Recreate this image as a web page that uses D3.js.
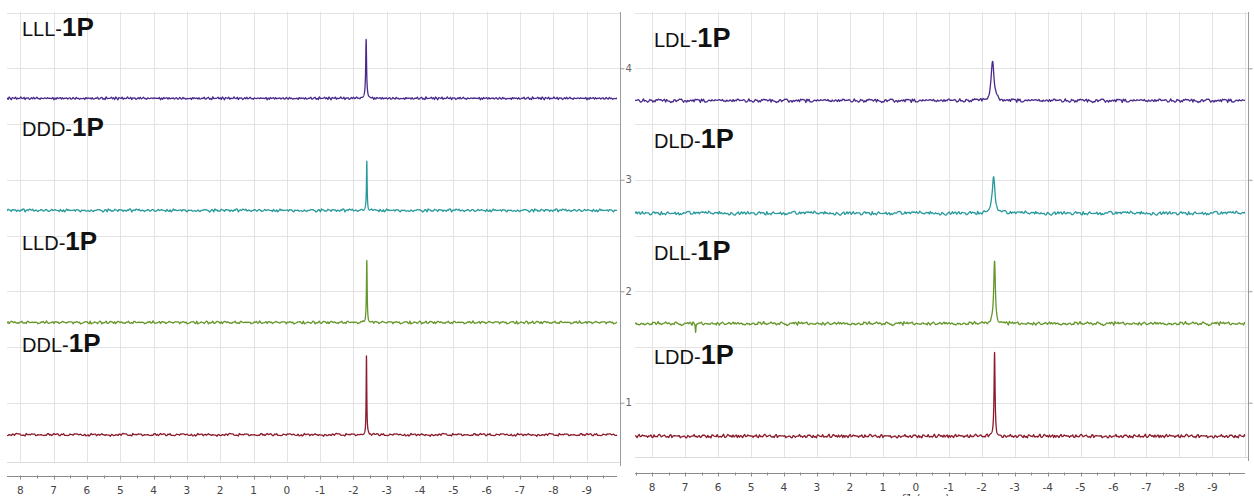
<!DOCTYPE html>
<html>
<head>
<meta charset="utf-8">
<script src="https://cdn.jsdelivr.net/npm/d3@7"></script>
<style>
  body { margin: 0; background: #fff; }
  svg { display: block; }
</style>
</head>
<body>
<svg id="chart" width="1254" height="496"></svg>
<script>
// ---- data -----------------------------------------------------------
const ppmTicks = [8, 7, 6, 5, 4, 3, 2, 1, 0, -1, -2, -3, -4, -5, -6, -7, -8, -9];
const intensityTicks = [1, 2, 3, 4];

const leftNames = ["LLL", "DDD", "LLD", "DDL"];
const rightNames = ["LDL", "DLD", "DLL", "LDD"];
const nameSuffix = "1P";

// stacked baseline offsets (intensity units)
const leftOffsets = [3.73, 2.725, 1.72, 0.713];
const rightOffsets = [3.71, 2.70, 1.71, 0.70];

// 31P signal: chemical shift (ppm), height above baseline, half-width (ppm)
const leftPeakShift = [-2.38, -2.40, -2.40, -2.39];
const leftPeakHeight = [0.53, 0.44, 0.55, 0.71];
const leftPeakWidth = [0.016, 0.012, 0.013, 0.011];

const rightPeakShift = [-2.33, -2.36, -2.39, -2.39];
const rightPeakHeight = [0.36, 0.33, 0.56, 0.75];
const rightPeakWidth = [0.05, 0.05, 0.03, 0.018];

// small negative artefact in the DLL trace
const rightSpikeShift = [null, null, 6.68, null];
const rightSpikeHeight = [0, 0, -0.085, 0];

const seriesColors = ["#48298c", "#27999c", "#64962a", "#8a1a2c"];

// baseline noise pattern (relative units)
const baselineNoise = [
  0.3, -0.5, 0.8, -0.2, -0.9, 0.4, 0.1, -0.6, 0.7, -0.3,
  0.5, -0.8, 0.2, 0.9, -0.4, -0.1, 0.6, -0.7, 0.3, -0.2,
  0.8, -0.5, 0.0, 0.4, -0.9, 0.6, -0.3, 0.1, 0.7, -0.6,
  0.2, -0.4, 0.9, -0.1, -0.7, 0.5, 0.3, -0.8, 0.6, -0.2,
  0.1, 0.4, -0.5, 0.8, -0.9, 0.2, -0.3, 0.7, -0.6, 0.0,
  0.5, -0.4, 0.9, -0.7, 0.3, -0.1, 0.6, -0.8, 0.2, 0.4,
  -0.5, 0.1, 0.8, -0.3, -0.6, 0.7, -0.2, 0.5, -0.9, 0.3,
  0.0, -0.4, 0.6, -0.7, 0.9, -0.1, 0.2, -0.5, 0.4, -0.8,
  0.7, -0.3, 0.1, 0.5, -0.6, 0.8, -0.2, -0.9, 0.3, 0.6,
  -0.4, 0.2, -0.7, 0.9, -0.5, 0.1, 0.4, -0.3, 0.7, -0.8
];

// ---- layout ---------------------------------------------------------
const svg = d3.select("#chart");
const FONT = "'Liberation Sans', Arial, sans-serif";
const AXIS_FONT = "'DejaVu Sans', Verdana, sans-serif";

const panels = [
  {
    names: leftNames, offsets: leftOffsets,
    shift: leftPeakShift, height: leftPeakHeight, width: leftPeakWidth,
    spikeShift: [null, null, null, null], spikeHeight: [0, 0, 0, 0],
    x0: 7, x1: 620, top: 12, bottom: 462, axisY: 476,
    ppmDomain: [8.4, -10], noiseAmp: 0.013,
    labelX: 22, labelY: [36, 136, 250, 352], nameSize: 20, suffixSize: 26,
    yAxisX: 620, yAxisLabels: true, strides: [1, 3, 7, 9]
  },
  {
    names: rightNames, offsets: rightOffsets,
    shift: rightPeakShift, height: rightPeakHeight, width: rightPeakWidth,
    spikeShift: rightSpikeShift, spikeHeight: rightSpikeHeight,
    x0: 635, x1: 1248, top: 12, bottom: 457, axisY: 473,
    ppmDomain: [8.52, -10.08], noiseAmp: 0.017,
    labelX: 654, labelY: [47, 148, 260, 364], nameSize: 20, suffixSize: 27,
    yAxisX: 1248, yAxisLabels: false, strides: [11, 13, 17, 19]
  }
];

const y = d3.scaleLinear().domain([0.5, 4.5]).range([458.5, 12.5]);

panels.forEach((p, pi) => {
  const x = d3.scaleLinear().domain(p.ppmDomain).range([p.x0, p.x1]);
  const g = svg.append("g");

  // grid
  const halfSteps = d3.range(1, 4.51, 0.5);
  g.selectAll(".hgrid").data(halfSteps).join("line")
    .attr("x1", p.x0).attr("x2", p.x1)
    .attr("y1", d => Math.round(y(d)) + 0.5).attr("y2", d => Math.round(y(d)) + 0.5)
    .attr("stroke", "#e3e3e3").attr("stroke-width", 1);
  g.append("line")
    .attr("x1", p.x0).attr("x2", p.x1)
    .attr("y1", p.bottom + 0.5).attr("y2", p.bottom + 0.5)
    .attr("stroke", "#dcdcdc");
  const vTicks = d3.range(Math.floor(p.ppmDomain[0]), Math.ceil(p.ppmDomain[1]) - 1, -1)
    .filter(v => x(v) > p.x0 + 2 && x(v) < p.x1 - 2);
  g.selectAll(".vgrid").data(vTicks).join("line")
    .attr("x1", d => Math.round(x(d)) + 0.5).attr("x2", d => Math.round(x(d)) + 0.5)
    .attr("y1", p.top).attr("y2", p.bottom)
    .attr("stroke", "#e3e3e3");

  // vertical intensity axis on the right edge
  const yAxis = d3.axisRight(y).tickValues(intensityTicks).tickSize(4).tickSizeOuter(0)
    .tickFormat(p.yAxisLabels ? d3.format("d") : "");
  const ya = g.append("g")
    .attr("transform", `translate(${p.yAxisX + 0.5},0)`)
    .call(yAxis);
  ya.select(".domain").attr("stroke", "#9a9a9a").attr("d", `M0,${p.top}V${p.bottom + 4}`);
  ya.selectAll(".tick line").attr("stroke", "#9a9a9a");
  ya.selectAll(".tick text").attr("font-family", AXIS_FONT).attr("font-size", 10)
    .attr("fill", "#666").attr("x", 5);

  // ppm axis
  const minor = d3.range(8.5, -10, -0.5).filter(v => x(v) >= p.x0 && x(v) <= p.x1 - 3);
  const xa = g.append("g").attr("transform", `translate(0,${p.axisY + 0.5})`);
  xa.append("line").attr("x1", p.x0).attr("x2", p.x1 - 3)
    .attr("stroke", "#8a8a8a");
  xa.selectAll(".minor").data(minor).join("line")
    .attr("x1", d => Math.round(x(d)) + 0.5).attr("x2", d => Math.round(x(d)) + 0.5)
    .attr("y1", -1).attr("y2", d => Number.isInteger(d) ? 3 : 2)
    .attr("stroke", "#8a8a8a");
  xa.selectAll(".lbl").data(ppmTicks).join("text")
    .attr("x", d => x(d)).attr("y", 17)
    .attr("text-anchor", "middle")
    .attr("font-family", AXIS_FONT).attr("font-size", 10.5).attr("fill", "#444")
    .text(d => d);

  if (pi === 1) {
    g.append("text").attr("x", x(-0.3)).attr("y", 502)
      .attr("text-anchor", "middle")
      .attr("font-family", AXIS_FONT).attr("font-size", 11).attr("fill", "#444")
      .text("f1 (ppm)");
  }

  // spectra
  const step = 0.032;
  const clipId = "clip" + pi;
  svg.append("clipPath").attr("id", clipId).append("rect")
    .attr("x", p.x0).attr("y", 0).attr("width", p.x1 - p.x0 - 3).attr("height", 496);

  p.names.forEach((name, i) => {
    const nCount = Math.floor((p.ppmDomain[0] - p.ppmDomain[1]) / step);
    const stride = p.strides[i];
    const start = 17 * i + 5 * pi;
    const noiseAt = k => {
      const a = baselineNoise[(start + k * stride) % baselineNoise.length];
      const b = baselineNoise[(start + 3 * k * stride + 41) % baselineNoise.length];
      return (0.75 * a + 0.45 * b) * p.noiseAmp;
    };
    const noiseFor = ppm => {
      const t = (p.ppmDomain[0] - ppm) / step;
      const k = Math.floor(t), f = t - k;
      return noiseAt(k) * (1 - f) + noiseAt(k + 1) * f;
    };
    // sample positions: regular grid plus fine sampling across the signals
    let pts = d3.range(0, nCount + 1).map(k => p.ppmDomain[0] - k * step);
    const centres = [p.shift[i]];
    if (p.spikeShift[i] !== null) centres.push(p.spikeShift[i]);
    centres.forEach(c => {
      pts = pts.concat(d3.range(c + 0.3, c - 0.3, -0.003));
    });
    pts.sort((a, b) => b - a);

    const hw = p.width[i];
    const value = ppm => {
      const d = (ppm - p.shift[i]) / hw;
      let v = p.offsets[i] + p.height[i] / (1 + d * d) + noiseFor(ppm);
      if (p.spikeShift[i] !== null) {
        const s = (ppm - p.spikeShift[i]) / 0.012;
        v += p.spikeHeight[i] / (1 + s * s);
      }
      return v;
    };
    const line = d3.line().x(d => x(d)).y(d => y(value(d)));
    g.append("path")
      .attr("clip-path", `url(#${clipId})`)
      .attr("d", line(pts))
      .attr("fill", "none")
      .attr("stroke", seriesColors[i])
      .attr("stroke-width", 1.3)
      .attr("stroke-linejoin", "round");

    // series label
    const t = g.append("text")
      .attr("x", p.labelX).attr("y", p.labelY[i])
      .attr("font-family", FONT).attr("fill", "#111");
    t.append("tspan").attr("font-size", p.nameSize).text(name + "-");
    t.append("tspan").attr("font-size", p.suffixSize).attr("font-weight", "bold").text(nameSuffix);
  });
});
</script>
</body>
</html>
